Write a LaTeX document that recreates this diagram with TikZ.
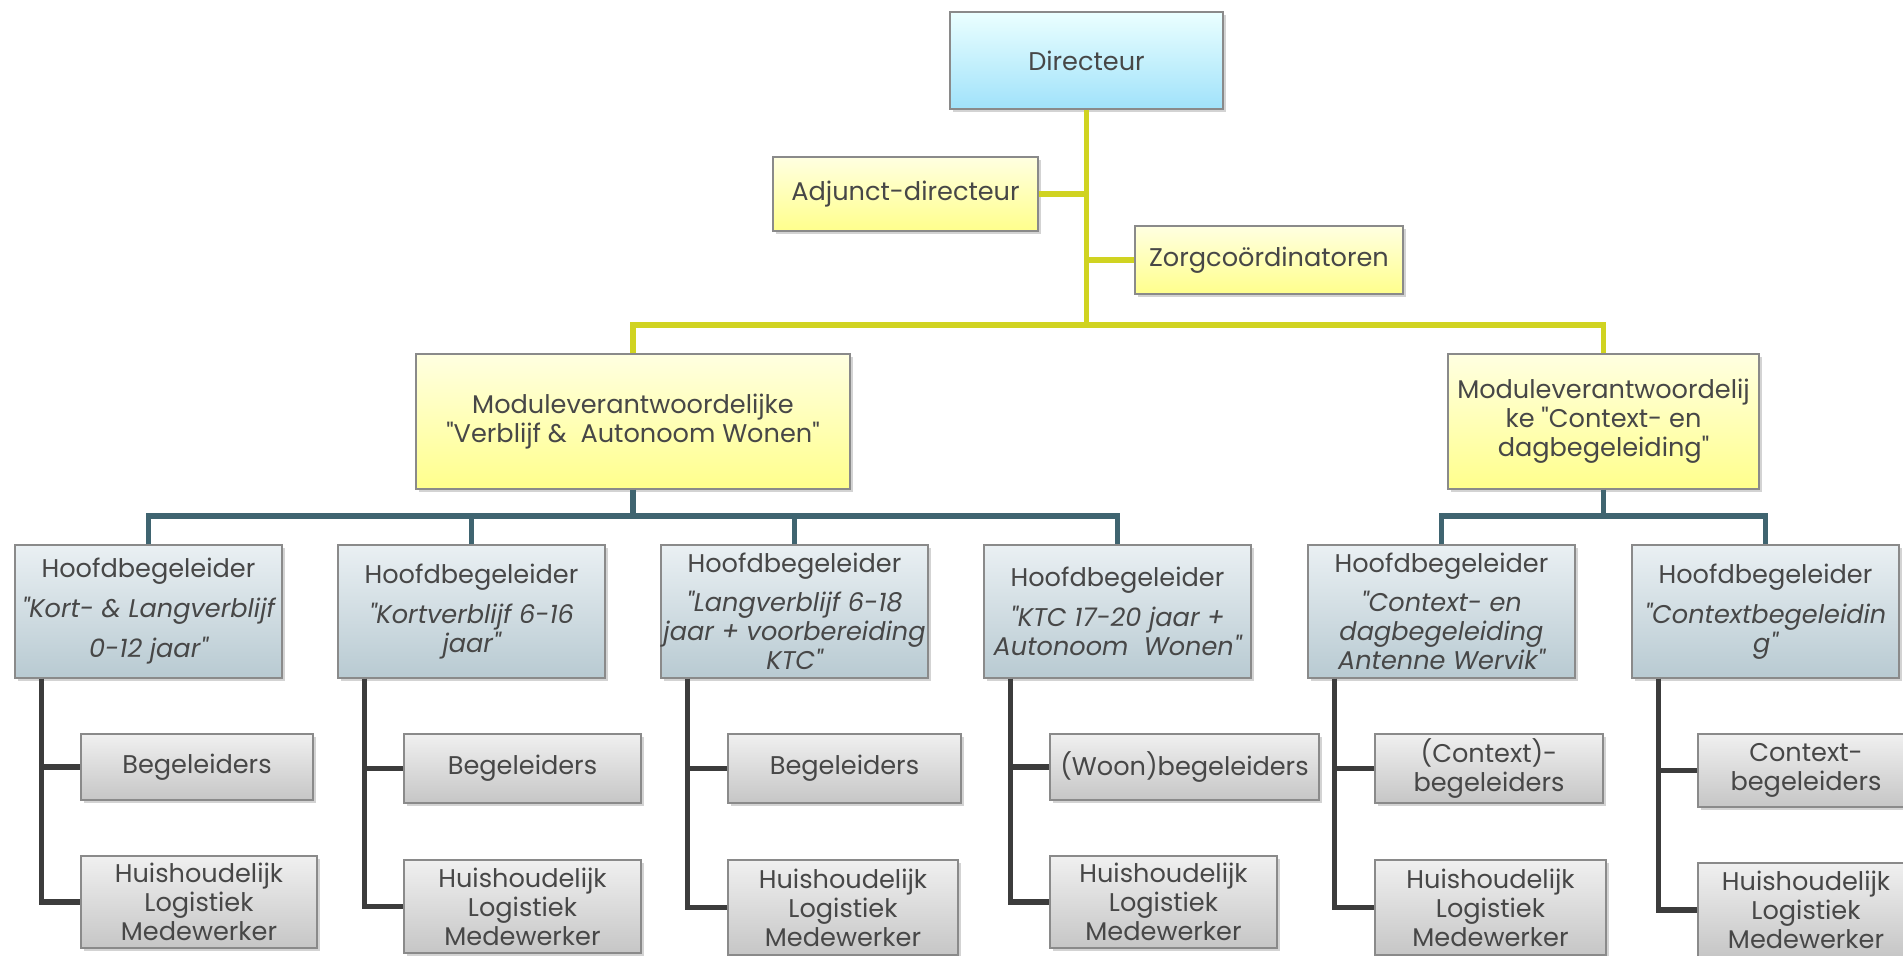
\documentclass[tikz,border=0pt]{standalone}
\usepackage{fontspec}
\setmainfont{Poppins}[Ligatures=TeXOff]
\usetikzlibrary{shadows}
\definecolor{txt}{HTML}{474747}
\definecolor{yline}{HTML}{D0D321}
\definecolor{tline}{HTML}{3F6470}
\definecolor{gline}{HTML}{3C3C3C}
\definecolor{bord}{HTML}{8A8A8A}
\tikzset{
  box/.style={draw=bord, line width=0.6pt, align=center, inner sep=0.5pt, text=txt,
    font=\fontsize{12.8}{14.5}\selectfont,
    drop shadow={shadow xshift=1.3pt, shadow yshift=-1.6pt, opacity=0.35}},
  dirbox/.style={box, top color=cyan!8!white, bottom color={rgb,255:red,160;green,226;blue,250}},
  ybox/.style={box, top color={rgb,255:red,255;green,255;blue,225}, bottom color={rgb,255:red,255;green,255;blue,140}},
  hbox/.style={box, top color={rgb,255:red,234;green,240;blue,243}, bottom color={rgb,255:red,184;green,202;blue,210}},
  gbox/.style={box, top color={rgb,255:red,240;green,240;blue,240}, bottom color={rgb,255:red,198;green,198;blue,198}},
  yconn/.style={draw=yline, line width=2.6pt},
  tconn/.style={draw=tline, line width=2.6pt},
  gconn/.style={draw=gline, line width=2.6pt},
}
\begin{document}
\begin{tikzpicture}[x=0.5pt,y=-0.5pt]
\useasboundingbox (0,0) rectangle (1903,955);

% top level
\node[dirbox, minimum width=136.5pt, minimum height=48.5pt] (dir) at (1086.5,60.5) {Directeur};
\node[ybox, minimum width=132.5pt, minimum height=37pt] (adj) at (905.5,194) {Adjunct-directeur};
\node[ybox, minimum width=134pt, minimum height=34pt] (zorg) at (1269,260) {Zorgcoördinatoren};
\node[ybox, minimum width=217pt, minimum height=67.5pt] (m1) at (633,421.5)
  {Moduleverantwoordelijke\\"Verblijf \&\ \ Autonoom Wonen"};
\node[ybox, minimum width=155.5pt, minimum height=67.5pt] (m2) at (1603.5,421.5)
  {Moduleverantwoordelij\\ke "Context- en\\dagbegeleiding"};

% hoofdbegeleiders
\node[hbox, minimum width=133.5pt, minimum height=66.5pt] (h1) at (148.5,611.5)
  {Hoofdbegeleider\\[5.5pt]\itshape "Kort- \& Langverblijf\\[5.5pt]\itshape 0-12 jaar"};
\node[hbox, minimum width=133.5pt, minimum height=66.5pt] (h2) at (471.5,611.5)
  {Hoofdbegeleider\\[5.5pt]\itshape "Kortverblijf 6-16\\\itshape jaar"};
\node[hbox, minimum width=133.5pt, minimum height=66.5pt] (h3) at (794.5,611.5)
  {Hoofdbegeleider\\[5pt]\itshape "Langverblijf 6-18\\\itshape jaar + voorbereiding\\\itshape KTC"};
\node[hbox, minimum width=133.5pt, minimum height=66.5pt] (h4) at (1117.5,611.5)
  {Hoofdbegeleider\\[5.5pt]\itshape "KTC 17-20 jaar +\\\itshape Autonoom\ \ Wonen"};
\node[hbox, minimum width=133.5pt, minimum height=66.5pt] (h5) at (1441.5,611.5)
  {Hoofdbegeleider\\[5pt]\itshape "Context- en\\\itshape dagbegeleiding\\\itshape Antenne Wervik"};
\node[hbox, minimum width=133.5pt, minimum height=66.5pt] (h6) at (1765.5,611.5)
  {Hoofdbegeleider\\[5.5pt]\itshape "Contextbegeleidin\\\itshape g"};

% bottom level
\node[gbox, minimum width=116pt, minimum height=33pt] (b1) at (197,767) {Begeleiders};
\node[gbox, minimum width=118pt, minimum height=46pt] (l1) at (199,902) {Huishoudelijk\\Logistiek\\Medewerker};
\node[gbox, minimum width=118.5pt, minimum height=34.5pt] (b2) at (522.5,768.5) {Begeleiders};
\node[gbox, minimum width=118.5pt, minimum height=46.5pt] (l2) at (522.5,906.5) {Huishoudelijk\\Logistiek\\Medewerker};
\node[gbox, minimum width=116.5pt, minimum height=34.5pt] (b3) at (844.5,768.5) {Begeleiders};
\node[gbox, minimum width=115pt, minimum height=47.5pt] (l3) at (843,907.5) {Huishoudelijk\\Logistiek\\Medewerker};
\node[gbox, minimum width=134.5pt, minimum height=33pt] (b4) at (1184.5,767) {(Woon)begeleiders};
\node[gbox, minimum width=113.5pt, minimum height=46pt] (l4) at (1163.5,902) {Huishoudelijk\\Logistiek\\Medewerker};
\node[gbox, minimum width=114pt, minimum height=34.5pt] (b5) at (1489,768.5) {(Context)-\\begeleiders};
\node[gbox, minimum width=115.5pt, minimum height=47.5pt] (l5) at (1490.5,907.5) {Huishoudelijk\\Logistiek\\Medewerker};
\node[gbox, minimum width=108pt, minimum height=36.5pt] (b6) at (1806,770.5) {Context-\\begeleiders};
\node[gbox, minimum width=108pt, minimum height=47pt] (l6) at (1806,910) {Huishoudelijk\\Logistiek\\Medewerker};

% yellow connectors
\coordinate (ybus) at (1086.5,325);
\draw[yconn] (dir.south) -- (ybus);
\draw[yconn] (adj.east) -- (adj.east -| dir.south);
\draw[yconn] (zorg.west) -- (zorg.west -| dir.south);
\draw[yconn] (m1.north) |- (ybus) -| (m2.north);

% teal connectors
\coordinate (tbus1) at (633,516);
\coordinate (tbus2) at (1603.5,516);
\draw[tconn] (m1.south) -- (tbus1);
\draw[tconn] (h1.north) |- (tbus1) -| (h4.north);
\draw[tconn] (h2.north) -- (h2.north |- tbus1);
\draw[tconn] (h3.north) -- (h3.north |- tbus1);
\draw[tconn] (m2.south) -- (tbus2);
\draw[tconn] (h5.north) |- (tbus2) -| (h6.north);

% dark connectors
\foreach \h/\b/\l in {h1/b1/l1, h2/b2/l2, h3/b3/l3, h4/b4/l4, h5/b5/l5, h6/b6/l6}{
  \coordinate (\h t) at ([xshift=13.5pt]\h.south west);
  \draw[gconn] (\h t) |- (\b.west);
  \draw[gconn] (\h t) |- (\l.west);
}
\end{tikzpicture}
\end{document}
